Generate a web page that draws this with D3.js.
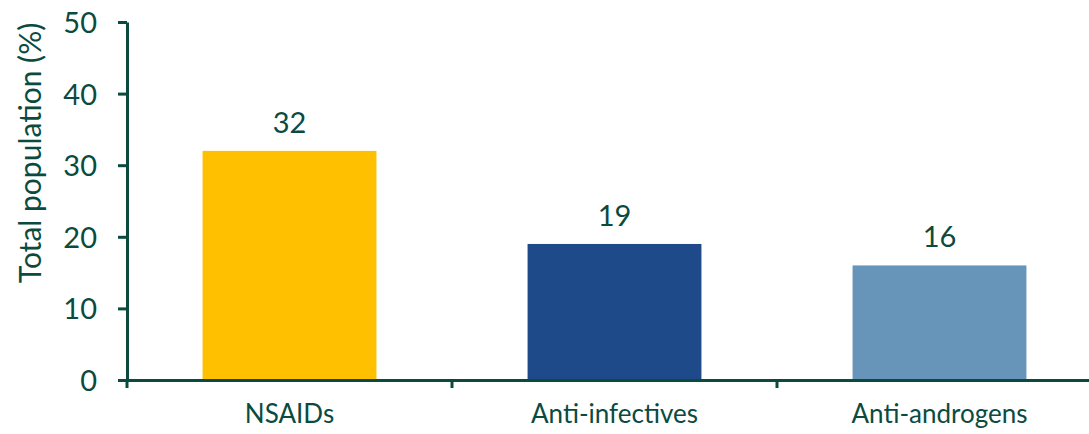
<!DOCTYPE html>
<html>
<head>
<meta charset="utf-8">
<script src="https://cdn.jsdelivr.net/npm/d3@7"></script>
<style>
  html, body { margin: 0; padding: 0; background: #fff; }
  svg { display: block; }
  text { font-family: Lato, "Open Sans", sans-serif; fill: #0b4b3f; }
</style>
</head>
<body>
<svg id="chart" width="1089" height="434"></svg>
<script>
// Share of total population by drug class
const categories = ["NSAIDs", "Anti-infectives", "Anti-androgens"];
const values = [32, 19, 16];
const barColors = ["#ffc000", "#1f4a89", "#6794b9"];
const yTicks = [0, 10, 20, 30, 40, 50];
const yTitle = "Total population (%)";

const ink = "#0b4b3f";
const svg = d3.select("#chart");
const margin = { left: 127, top: 22, bottom: 54 };
const plotRight = 1102;
const height = 434;

const x = d3.scaleBand()
  .domain(categories)
  .range([margin.left, plotRight])
  .paddingInner(0.465)
  .paddingOuter(0.2325);

const y = d3.scaleLinear()
  .domain([0, 50])
  .range([height - margin.bottom, margin.top]);

// Bars
svg.append("g")
  .selectAll("rect")
  .data(categories)
  .join("rect")
  .attr("x", d => x(d))
  .attr("y", (d, i) => y(values[i]))
  .attr("width", x.bandwidth())
  .attr("height", (d, i) => y(0) - y(values[i]))
  .attr("fill", (d, i) => barColors[i]);

// Value labels
svg.append("g")
  .selectAll("text")
  .data(categories)
  .join("text")
  .attr("x", d => x(d) + x.bandwidth() / 2)
  .attr("y", (d, i) => y(values[i]) - 18)
  .attr("text-anchor", "middle")
  .style("font-size", "29px")
  .text((d, i) => values[i]);

// Y axis
const yAxis = svg.append("g")
  .attr("transform", `translate(${margin.left},0)`)
  .call(d3.axisLeft(y).tickValues(yTicks).tickSizeInner(9).tickSizeOuter(0).tickPadding(21));
yAxis.select(".domain").attr("stroke", ink).attr("stroke-width", 3);
yAxis.selectAll(".tick line").attr("stroke", ink).attr("stroke-width", 3);
yAxis.selectAll(".tick text")
  .style("font-size", "29px")
  .style("font-family", "Lato, sans-serif")
  .attr("fill", ink)
  .attr("dy", "0.36em");

// X axis: category labels centred in each band
const xAxis = svg.append("g")
  .attr("transform", `translate(0,${y(0)})`)
  .call(d3.axisBottom(x).tickSize(0).tickPadding(25));
xAxis.select(".domain").attr("stroke", ink).attr("stroke-width", 3);
xAxis.selectAll(".tick text")
  .style("font-size", "26px")
  .style("font-family", "Lato, sans-serif")
  .attr("fill", ink);

// Boundary ticks between categories
const step = x.step();
const boundaries = categories.map(d => x(d) - step * x.paddingInner() / 2)
  .concat([x(categories[categories.length - 1]) + x.bandwidth() + step * x.paddingInner() / 2]);
svg.append("g")
  .selectAll("line")
  .data(boundaries)
  .join("line")
  .attr("x1", d => d).attr("x2", d => d)
  .attr("y1", y(0)).attr("y2", y(0) + 8)
  .attr("stroke", ink)
  .attr("stroke-width", 3);

// Y axis title
svg.append("text")
  .attr("transform", `translate(41,${(y(0) + y(50)) / 2 - 48}) rotate(-90)`)
  .attr("text-anchor", "middle")
  .style("font-size", "30px")
  .text(yTitle);
</script>
</body>
</html>
